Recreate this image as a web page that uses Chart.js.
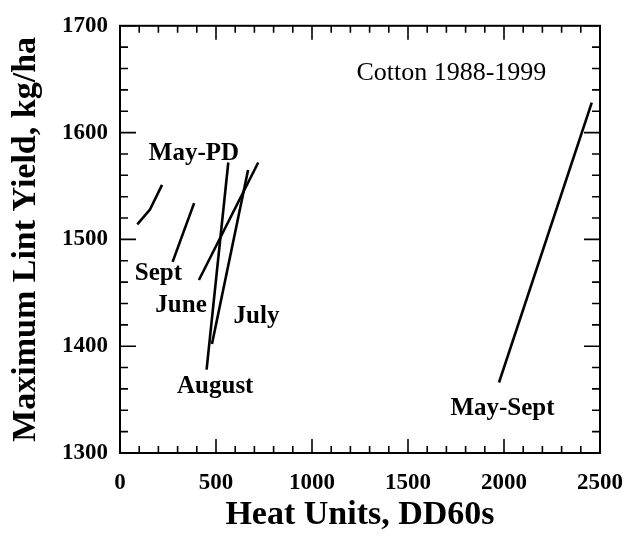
<!DOCTYPE html>
<html lang="en">
<head>
    <meta charset="UTF-8">
    <title>Maximum Lint Yield vs Heat Units</title>
    <script src="https://cdn.jsdelivr.net/npm/chart.js"></script>
    <style>
        html, body { margin: 0; padding: 0; background: #fff; }
        #wrap { width: 641px; height: 548px; }
    </style>
</head>
<body>
    <div id="wrap"><canvas id="myChart" width="641" height="548"></canvas></div>

    <script>
        // segment data (heat units, lint yield)
        const mayPdX = [90, 156, 219];
        const mayPdY = [1514, 1528, 1551];
        const septX = [274, 386];
        const septY = [1479, 1534];
        const juneX = [411, 720];
        const juneY = [1462, 1572];
        const julyX = [479, 667];
        const julyY = [1402, 1565];
        const augustX = [451, 564];
        const augustY = [1378, 1572];
        const maySeptX = [1974, 2457];
        const maySeptY = [1366, 1628];

        // text labels placed at data coordinates
        const labelText = ['May-PD', 'Sept', 'June', 'July', 'August', 'May-Sept'];
        const labelX = [385, 200, 318, 711, 496, 1992];
        const labelY = [1580, 1468, 1438, 1428, 1362, 1342];
        const noteText = 'Cotton 1988-1999';
        const noteX = 1726;
        const noteY = 1656;

        const serif = "'Liberation Serif', 'Times New Roman', serif";

        function pts(xs, ys) {
            return xs.map((x, i) => ({ x: x, y: ys[i] }));
        }

        const series = [
            ['May-PD', mayPdX, mayPdY],
            ['Sept', septX, septY],
            ['June', juneX, juneY],
            ['July', julyX, julyY],
            ['August', augustX, augustY],
            ['May-Sept', maySeptX, maySeptY]
        ];

        // inward ticks on all four sides + top/right frame
        const frameTicks = {
            id: 'frameTicks',
            afterDatasetsDraw(chart) {
                const c = chart.ctx;
                const a = chart.chartArea;
                const xs = chart.scales.x, ys = chart.scales.y;
                c.save();
                c.strokeStyle = '#000';
                c.lineWidth = 2;
                c.strokeRect(a.left, a.top, a.right - a.left, a.bottom - a.top);
                c.lineWidth = 1.6;
                c.beginPath();
                for (let v = 0; v <= 2500; v += 100) {
                    const p = xs.getPixelForValue(v);
                    const len = v % 500 === 0 ? 14 : 7;
                    c.moveTo(p, a.bottom); c.lineTo(p, a.bottom - len);
                    c.moveTo(p, a.top); c.lineTo(p, a.top + len);
                }
                for (let v = 1300; v <= 1700; v += 20) {
                    const p = ys.getPixelForValue(v);
                    const len = v % 100 === 0 ? 16 : 8;
                    c.moveTo(a.left, p); c.lineTo(a.left + len, p);
                    c.moveTo(a.right, p); c.lineTo(a.right - len, p);
                }
                c.stroke();

                c.fillStyle = '#000';
                c.textAlign = 'center';
                c.textBaseline = 'middle';
                c.font = 'bold 25px ' + serif;
                labelText.forEach((t, i) => {
                    c.fillText(t, xs.getPixelForValue(labelX[i]), ys.getPixelForValue(labelY[i]));
                });
                c.font = '26px ' + serif;
                c.fillText(noteText, xs.getPixelForValue(noteX), ys.getPixelForValue(noteY));
                c.restore();
            }
        };

        const plain = v => String(v);

        const ctx = document.getElementById('myChart').getContext('2d');
        const myChart = new Chart(ctx, {
            type: 'scatter',
            data: {
                datasets: series.map(s => ({
                    label: s[0],
                    data: pts(s[1], s[2]),
                    showLine: true,
                    borderColor: '#000',
                    borderWidth: 2.6,
                    pointRadius: 0,
                    tension: 0
                }))
            },
            options: {
                responsive: false,
                animation: false,
                layout: { padding: { top: 18, right: 41, bottom: 8, left: 0 } },
                plugins: {
                    legend: { display: false },
                    tooltip: { enabled: false }
                },
                scales: {
                    x: {
                        type: 'linear',
                        min: 0,
                        max: 2500,
                        afterFit: s => { s.height = 87; },
                        grid: { display: false, drawTicks: false },
                        border: { display: true, color: '#000', width: 2 },
                        ticks: {
                            stepSize: 500,
                            padding: 16,
                            color: '#000',
                            callback: plain,
                            font: { family: serif, size: 23, weight: 'bold' }
                        },
                        title: {
                            display: true,
                            text: 'Heat Units, DD60s',
                            color: '#000',
                            padding: { top: 0, bottom: 4 },
                            font: { family: serif, size: 34, weight: 'bold' }
                        }
                    },
                    y: {
                        type: 'linear',
                        min: 1300,
                        max: 1700,
                        afterFit: s => { s.width = 120; },
                        grid: { display: false, drawTicks: false },
                        border: { display: true, color: '#000', width: 2 },
                        ticks: {
                            stepSize: 100,
                            padding: 12,
                            color: '#000',
                            callback: plain,
                            font: { family: serif, size: 23, weight: 'bold' }
                        },
                        title: {
                            display: true,
                            text: 'Maximum Lint Yield, kg/ha',
                            color: '#000',
                            padding: { top: 6, bottom: 0 },
                            font: { family: serif, size: 34, weight: 'bold' }
                        }
                    }
                }
            },
            plugins: [frameTicks]
        });
    </script>
</body>
</html>
